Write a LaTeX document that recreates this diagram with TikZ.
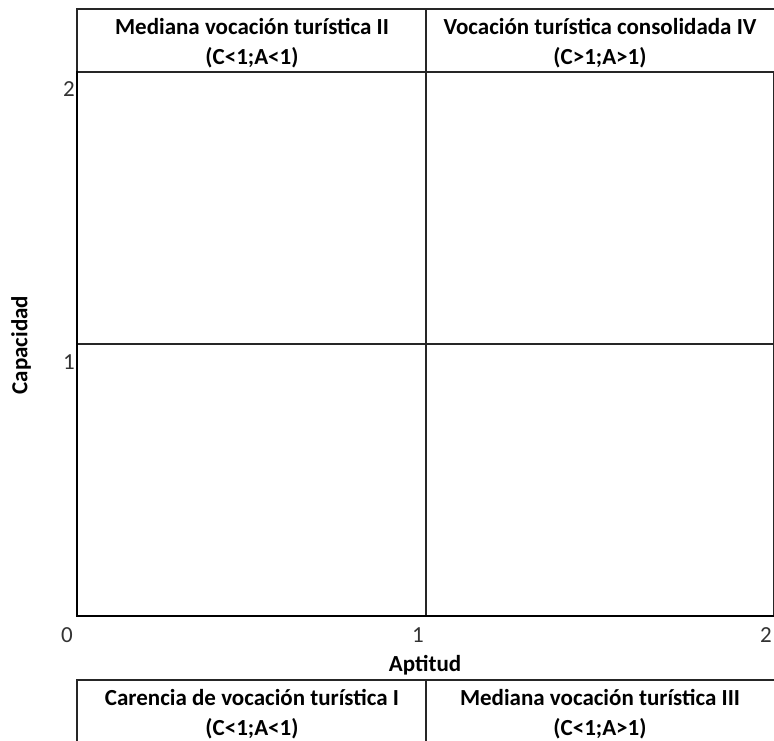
\documentclass[tikz,border=0pt]{standalone}
\usepackage{fontspec}
\setmainfont{Carlito}
\begin{document}
\begin{tikzpicture}[x=1pt,y=-1pt,
  hdr/.style={font=\fontsize{23}{30}\selectfont\bfseries, align=center, text=black},
  tick/.style={font=\fontsize{23}{28}\selectfont, text=black!80},
  axlab/.style={font=\fontsize{23}{28}\selectfont\bfseries, text=black},
  thin/.style={line width=1.3pt, black!85},
  axis/.style={line width=2.6pt, black}]
\useasboundingbox (0,0) rectangle (774,740);
\begin{scope}
\clip (0,0) rectangle (774,740);
% top table
\draw[thin] (775,9) -- (77,9) -- (77,72);
\draw[thin] (426,9) -- (426,72);
% plot grid
\draw[thin] (77,72) -- (775,72);
\draw[thin] (77,344) -- (775,344);
\draw[thin] (426,72) -- (426,616);
\draw[thin] (773.5,72) -- (773.5,616);
\draw[axis] (77,71) -- (77,616) -- (775,616);
% bottom table
\draw[thin] (77,741) -- (77,680) -- (775,680);
\draw[thin] (426,680) -- (426,741);
\end{scope}
% headers
\node[hdr] (q2) at (252,43) {Mediana vocación turística II\\(C<1;A<1)};
\node[hdr] (q4) at (600,43) {Vocación turística consolidada IV\\(C>1;A>1)};
\node[hdr] (q1) at (252,714) {Carencia de vocación turística I\\(C<1;A<1)};
\node[hdr] (q3) at (600,714) {Mediana vocación turística III\\(C<1;A>1)};
% ticks
\node[tick, anchor=east, inner sep=1pt] (y2) at (76,89) {2};
\node[tick, anchor=east, inner sep=1pt] (y1) at (76,362) {1};
\node[tick] (x0) at (67,635) {0};
\node[tick] (x1) at (418,635) {1};
\node[tick] (x2) at (766,635) {2};
% axis labels
\node[axlab] (xl) at (425,665) {Aptitud};
\node[axlab, rotate=90] (yl) at (21,345) {Capacidad};
\end{tikzpicture}
\end{document}
